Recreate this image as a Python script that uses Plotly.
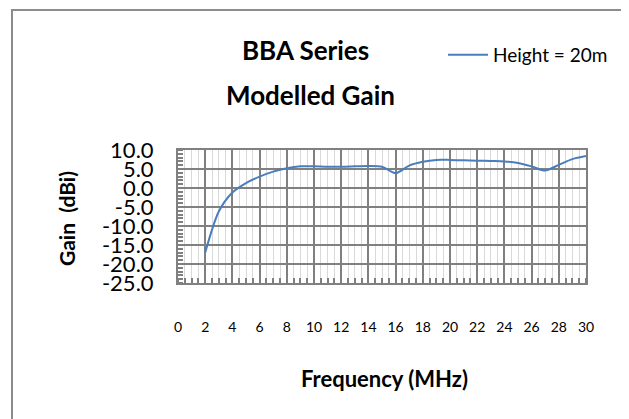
import plotly.graph_objects as go

freq_mhz = [2, 3, 4, 5, 6, 7, 8, 9, 10, 11, 12, 13, 14, 15, 16, 17, 18, 19, 20, 21, 22, 23, 24, 25, 26, 27, 28, 29, 30]
gain_dbi = [-17.0, -6.2, -1.2, 1.3, 3.0, 4.3, 5.2, 5.7, 5.7, 5.6, 5.6, 5.7, 5.8, 5.6, 3.9, 5.9, 6.9, 7.4, 7.4, 7.3, 7.2, 7.1, 7.0, 6.6, 5.7, 4.6, 6.1, 7.6, 8.4]

x_ticks = list(range(0, 31, 2))
y_ticks = [10, 5, 0, -5, -10, -15, -20, -25]
y_tick_text = ["10.0", "5.0", "0.0", "-5.0", "-10.0", "-15.0", "-20.0", "-25.0"]

FONT = "Lato"
W, H = 629, 419
OFF = 8  # page body margin
PL, PR, PT, PB = 178, 586, 150, 283  # plot area in screen pixels


def px(sx):
    return (sx - PL) / (PR - PL)


def py(sy):
    return (PB - sy) / (PB - PT)


fig = go.Figure()
fig.add_trace(go.Scatter(
    x=freq_mhz, y=gain_dbi, mode="lines", name="Height = 20m",
    line=dict(color="#4a7ebb", width=2, shape="spline", smoothing=0.8),
))

fig.update_layout(
    width=W, height=H,
    margin=dict(l=PL - OFF, r=W - (PR - OFF), t=PT - OFF, b=H - (PB - OFF), autoexpand=False),
    paper_bgcolor="white", plot_bgcolor="white",
    font=dict(family=FONT, color="black"),
    showlegend=True,
    legend=dict(
        xref="container", yref="container", x=(443 - OFF) / W, y=1 - (36 - OFF) / H,
        xanchor="left", yanchor="top",
        font=dict(family=FONT, size=19, color="black"),
        bgcolor="rgba(0,0,0,0)", itemwidth=40,
    ),
    xaxis=dict(
        range=[0, 30], tickmode="array", tickvals=x_ticks,
        ticktext=[str(v) for v in x_ticks], tickangle=0, automargin=False,
        tickfont=dict(family=FONT, size=14),
        ticklabelstandoff=30,
        showgrid=True, gridcolor="#808080", gridwidth=2,
        showline=True, linecolor="#808080", linewidth=2, mirror=True,
        ticks="", zeroline=False,
        minor=dict(dtick=0.5, showgrid=True, gridcolor="#d9d9d9", gridwidth=1,
                   ticks="inside", ticklen=5, tickcolor="#808080", tickwidth=2),
    ),
    yaxis=dict(
        range=[-25, 10], tickmode="array", tickvals=y_ticks, ticktext=y_tick_text,
        tickfont=dict(family=FONT, size=22), automargin=False,
        ticklabelstandoff=18,
        showgrid=True, gridcolor="#808080", gridwidth=2,
        showline=True, linecolor="#808080", linewidth=2, mirror=True,
        ticks="", zeroline=False,
        minor=dict(dtick=1, showgrid=False, ticks="inside", ticklen=5,
                   tickcolor="#808080", tickwidth=2),
    ),
    shapes=[dict(type="rect", xref="paper", yref="paper",
                 x0=px(12), x1=px(625), y0=py(440), y1=py(10),
                 line=dict(color="#8c8c8c", width=2), layer="below")],
    annotations=[
        dict(text="<b>BBA Series</b>", xref="paper", yref="paper",
             x=px(305), y=py(50), showarrow=False, xanchor="center", yanchor="middle",
             font=dict(family=FONT, size=26)),
        dict(text="<b>Modelled Gain</b>", xref="paper", yref="paper",
             x=px(310), y=py(95), showarrow=False, xanchor="center", yanchor="middle",
             font=dict(family=FONT, size=26)),
        dict(text="<b>Frequency (MHz)</b>", xref="paper", yref="paper",
             x=px(384), y=py(378), showarrow=False, xanchor="center", yanchor="middle",
             font=dict(family=FONT, size=22)),
        dict(text="<b>Gain  (dBi)</b>", xref="paper", yref="paper",
             x=px(66), y=py(218), showarrow=False, xanchor="center", yanchor="middle",
             textangle=-90, font=dict(family=FONT, size=21)),
    ],
)

fig.write_html("out.html")
